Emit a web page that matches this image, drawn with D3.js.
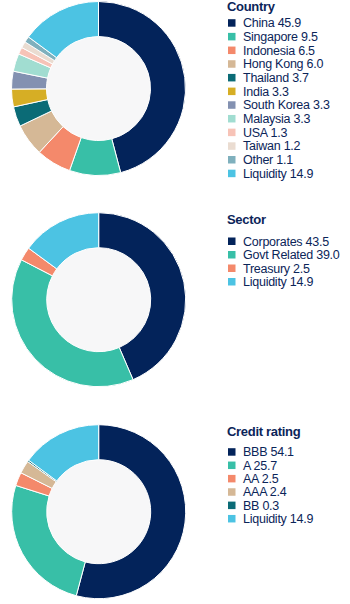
<!DOCTYPE html>
<html>
<head>
<meta charset="utf-8">
<script src="https://cdn.jsdelivr.net/npm/d3@7"></script>
<style>
  html, body { margin: 0; padding: 0; background: #ffffff; }
  svg { display: block; }
  text { font-family: "Liberation Sans", Arial, sans-serif; fill: #0b2559; }
</style>
</head>
<body>
<svg id="chart" width="350" height="604"></svg>
<script>
// ---- Data ----
const countryLabels = ["China", "Singapore", "Indonesia", "Hong Kong", "Thailand", "India", "South Korea", "Malaysia", "USA", "Taiwan", "Other", "Liquidity"];
const countryValues = [45.9, 9.5, 6.5, 6.0, 3.7, 3.3, 3.3, 3.3, 1.3, 1.2, 1.1, 14.9];
const countryColors = ["#03235a", "#38bfa7", "#f4896b", "#d5b896", "#0b6b76", "#d6ae25", "#8391b1", "#a1ddd1", "#f7c3b7", "#eadcd1", "#7fb0bd", "#4cc3e3"];

const sectorLabels = ["Corporates", "Govt Related", "Treasury", "Liquidity"];
const sectorValues = [43.5, 39.0, 2.5, 14.9];
const sectorColors = ["#03235a", "#38bfa7", "#f4896b", "#4cc3e3"];

const ratingLabels = ["BBB", "A", "AA", "AAA", "BB", "Liquidity"];
const ratingValues = [54.1, 25.7, 2.5, 2.4, 0.3, 14.9];
const ratingColors = ["#03235a", "#38bfa7", "#f4896b", "#d5b896", "#0b6b76", "#4cc3e3"];

const svg = d3.select("#chart");

function drawPanel(cfg) {
  const data = cfg.labels.map((l, i) => ({ label: l, value: cfg.values[i], color: cfg.colors[i] }));
  const pie = d3.pie().value(d => d.value).sort(null);
  const arc = d3.arc().innerRadius(cfg.r).outerRadius(cfg.R);
  const g = svg.append("g").attr("transform", `translate(${cfg.cx},${cfg.cy})`);
  g.append("circle").attr("r", cfg.r).attr("fill", "#f7f7f8");
  g.selectAll("path.slice").data(pie(data)).join("path")
    .attr("class", "slice")
    .attr("d", arc)
    .attr("fill", d => d.data.color)
    .attr("stroke", "#ffffff")
    .attr("stroke-width", 1);

  const lg = svg.append("g").attr("transform", `translate(${cfg.lx},0)`);
  lg.append("text")
    .attr("x", -1).attr("y", cfg.titleY)
    .attr("font-size", 13).attr("font-weight", "bold")
    .attr("letter-spacing", "-0.3")
    .text(cfg.title);
  const y = d3.scaleLinear().domain([0, 1]).range([cfg.row0, cfg.row0 + cfg.step]);
  const rows = lg.selectAll("g.row").data(data).join("g")
    .attr("class", "row")
    .attr("transform", (d, i) => `translate(0,${y(i)})`);
  rows.append("rect").attr("x", 0).attr("y", -3.5).attr("width", 7.5).attr("height", 7.5)
    .attr("fill", d => d.color);
  rows.append("text").attr("x", 15).attr("y", 4.6)
    .attr("font-size", 12.5).attr("letter-spacing", "-0.25")
    .text(d => `${d.label} ${d.value.toFixed(1)}`);
}

drawPanel({ title: "Country", labels: countryLabels, values: countryValues, colors: countryColors,
  cx: 98.5, cy: 88.5, R: 87, r: 52, lx: 228, titleY: 11, row0: 22.7, step: 13.68 });
drawPanel({ title: "Sector", labels: sectorLabels, values: sectorValues, colors: sectorColors,
  cx: 98.7, cy: 299.7, R: 87, r: 52, lx: 228, titleY: 224, row0: 241, step: 13.5 });
drawPanel({ title: "Credit rating", labels: ratingLabels, values: ratingValues, colors: ratingColors,
  cx: 98.7, cy: 511.7, R: 87, r: 52, lx: 228, titleY: 436, row0: 451.7, step: 13.35 });
</script>
</body>
</html>
